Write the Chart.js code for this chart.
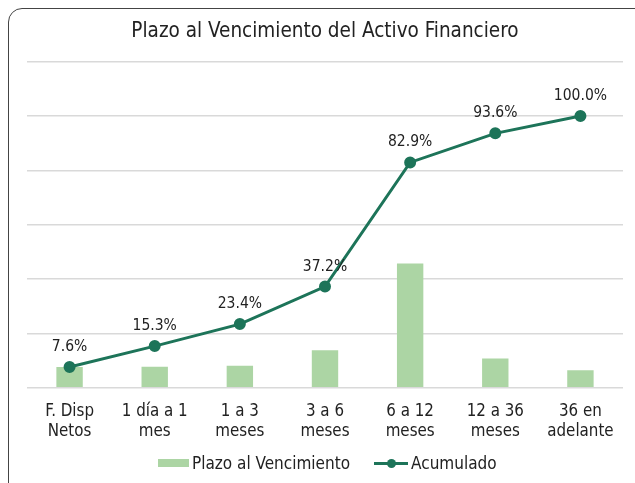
<!DOCTYPE html>
<html lang="es">
<head>
<meta charset="UTF-8">
<title>Plazo al Vencimiento del Activo Financiero</title>
<script src="https://cdn.jsdelivr.net/npm/chart.js"></script>
<style>
  html, body { margin: 0; padding: 0; background: #fff; overflow: hidden; }
  #frame {
    position: absolute; left: 8px; top: 8px; width: 660px; height: 490px;
    border: 1.5px solid #444; border-radius: 14px;
  }
  #wrap { position: absolute; left: 0; top: 0; width: 635px; height: 483px; }
  #legend {
    position: absolute; left: 158px; top: 453px; height: 20px;
    display: flex; align-items: center;
    font: 17px "DejaVu Sans Condensed", "DejaVu Sans", sans-serif; color: #222; line-height: 20px;
  }
  .box { width: 31px; height: 8px; background: #acd5a4; margin-right: 3px; }
  .ln { position: relative; width: 34px; height: 3px; background: #1d7459; margin: 0 3px 0 24px; }
  .ln::after {
    content: ''; position: absolute; left: 12.5px; top: -3px; width: 9px; height: 9px;
    border-radius: 50%; background: #1d7459;
  }
</style>
</head>
<body>
<div id="frame"></div>
<div id="wrap"><canvas id="chart"></canvas></div>
<div id="legend">
  <span class="box"></span><span id="lg0"></span>
  <span class="ln"></span><span id="lg1"></span>
</div>
<script>
const categories = [['F. Disp', 'Netos'], ['1 día a 1', 'mes'], ['1 a 3', 'meses'], ['3 a 6', 'meses'],
  ['6 a 12', 'meses'], ['12 a 36', 'meses'], ['36 en', 'adelante']];
const plazo = [7.6, 7.7, 8.1, 13.8, 45.7, 10.7, 6.4];
const acumulado = [7.6, 15.3, 23.4, 37.2, 82.9, 93.6, 100.0];
const seriesNames = ['Plazo al Vencimiento', 'Acumulado'];

const barColor = '#acd5a4';
const lineColor = '#1d7459';
const FONT = '"DejaVu Sans Condensed", "DejaVu Sans", sans-serif';

document.getElementById('lg0').textContent = seriesNames[0];
document.getElementById('lg1').textContent = seriesNames[1];

// labels above the cumulative points
const pointLabels = {
  id: 'pointLabels',
  afterDatasetsDraw(chart) {
    const ctx = chart.ctx;
    const meta = chart.getDatasetMeta(1);
    ctx.save();
    ctx.font = '15.5px ' + FONT;
    ctx.fillStyle = '#222';
    ctx.textAlign = 'center';
    ctx.textBaseline = 'middle';
    meta.data.forEach((pt, i) => {
      ctx.fillText(acumulado[i].toFixed(1) + '%', pt.x, pt.y - 20);
    });
    ctx.restore();
  }
};

Chart.defaults.font.family = FONT;
Chart.defaults.color = '#222';

new Chart(document.getElementById('chart'), {
  data: {
    labels: categories,
    datasets: [
      {
        type: 'bar',
        label: seriesNames[0],
        data: plazo,
        backgroundColor: barColor,
        barPercentage: 0.31,
        categoryPercentage: 1,
        order: 2
      },
      {
        type: 'line',
        label: seriesNames[1],
        data: acumulado,
        borderColor: lineColor,
        backgroundColor: lineColor,
        borderWidth: 3,
        pointRadius: 4.5,
        pointHoverRadius: 4.5,
        tension: 0,
        order: 1
      }
    ]
  },
  options: {
    responsive: true,
    maintainAspectRatio: false,
    animation: false,
    layout: { padding: { left: 27, right: 12, top: 19, bottom: 35 } },
    plugins: {
      title: {
        display: true,
        text: 'Plazo al Vencimiento del Activo Financiero',
        font: { size: 20.5, weight: 'normal' },
        color: '#222',
        padding: { top: 0, bottom: 18 }
      },
      legend: { display: false },
      tooltip: { enabled: false }
    },
    scales: {
      x: {
        grid: { display: false },
        border: { display: false },
        ticks: { font: { size: 16.8 }, color: '#222', padding: 6, maxRotation: 0 }
      },
      y: {
        min: 0, max: 120,
        ticks: { display: false, stepSize: 20 },
        grid: { color: '#d9d9d9', lineWidth: 1.5, drawTicks: false },
        border: { display: false }
      }
    }
  },
  plugins: [pointLabels]
});
</script>
</body>
</html>
